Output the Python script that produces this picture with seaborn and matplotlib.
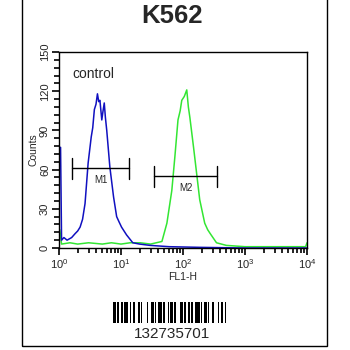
import numpy as np
import pandas as pd
import matplotlib
matplotlib.use("Agg")
import matplotlib.pyplot as plt
import seaborn as sns
from matplotlib.patches import Rectangle
from matplotlib.ticker import LogLocator, MultipleLocator, NullFormatter, FixedLocator

# ---- data ----
blue_fl = [1.04, 1.06, 1.1, 1.2, 1.35, 1.6, 1.82, 2.0, 2.19, 2.4, 2.63, 2.95, 3.31, 3.5, 3.72,
           3.95, 4.17, 4.37, 4.57, 4.9, 5.1, 5.37, 5.6, 5.89, 6.61, 7.59, 8.51, 9.3,
           10.2, 12.3, 15.5, 20, 29.5, 60, 186, 1000, 10000]
blue_counts = [77, 77, 6, 8, 6, 8, 11, 13, 16, 22, 34, 65, 85, 92, 106,
               110, 118, 112, 113, 98, 104, 111, 100, 90, 62, 39, 24, 20,
               16, 10, 4, 3, 2, 1, 0.5, 0, 0]

green_fl = [1.0, 1.03, 1.1, 1.5, 2.0, 3.0, 5.0, 7.0, 10.0, 14.0, 20.4, 30.0, 45.7, 55.0,
            66.0, 74.0, 83.0, 90.0, 95.5, 105, 115, 122, 129, 148, 166, 186, 224, 250,
            275, 347, 500, 1000, 3000, 9500, 10000]
green_counts = [14, 14, 3, 4, 3, 4, 3, 4, 3, 4, 4, 3, 5, 19,
                44, 70, 98, 105, 113, 116, 121, 108, 100, 77, 57, 37, 19, 14,
                11, 4, 2, 1, 1, 1, 4]

marker_names = ["M1", "M2"]
marker_lo = [1.62, 34]
marker_hi = [13.5, 355]
marker_y = [61, 55]

title = "K562"
x_label = "FL1-H"
y_label = "Counts"
y_ticks = [0, 30, 60, 90, 120, 150]
x_ticks = [1, 10, 100, 1000, 10000]
x_tick_labels = [r"$\mathregular{10^0}$", r"$\mathregular{10^1}$", r"$\mathregular{10^2}$",
                 r"$\mathregular{10^3}$", r"$\mathregular{10^4}$"]
barcode_text = "132735701"
barcode_widths = [2, 1, 1, 2, 1, 1, 3, 1, 1, 1, 2, 2, 1, 1, 1, 3, 1, 2, 2, 1, 1, 1, 3, 1,
                  1, 2, 1, 1, 2, 1, 1, 3, 2, 1, 1, 2, 1, 1, 1, 2, 3, 1, 1, 1, 2, 1, 1, 2,
                  1, 3, 1, 1, 2, 1, 1, 2]

sns.set_style("white")
plt.rcParams["font.family"] = ["Liberation Sans", "DejaVu Sans"]
plt.rcParams["mathtext.fontset"] = "custom"
plt.rcParams["mathtext.rm"] = "Liberation Sans"

W, H = 350, 350
fig = plt.figure(figsize=(3.5, 3.5), dpi=100)

def fx(px):
    return px / W

def fy(py):
    return 1 - py / H

# outer frame
fig.patches.append(Rectangle((fx(22), fy(346)), fx(327) - fx(22), fy(-2) - fy(346),
                             transform=fig.transFigure, fill=False, edgecolor="black",
                             linewidth=1.0))

fig.text(fx(172), fy(16), title, ha="center", va="center", fontsize=18.5, fontweight="bold")

ax = fig.add_axes([fx(59), fy(248), fx(307) - fx(59), fy(52) - fy(248)])

blue_df = pd.DataFrame({"fl": blue_fl, "count": blue_counts})
green_df = pd.DataFrame({"fl": green_fl, "count": green_counts})
sns.lineplot(data=green_df, x="fl", y="count", ax=ax, color="#33e633", lw=1.1,
             estimator=None, sort=False)
sns.lineplot(data=blue_df, x="fl", y="count", ax=ax, color="#1010c0", lw=1.1,
             estimator=None, sort=False)

ax.set_xscale("log")
ax.set_xlim(1, 10000)
ax.set_ylim(0, 150)

for name, lo, hi, yv in zip(marker_names, marker_lo, marker_hi, marker_y):
    ax.plot([lo, hi], [yv, yv], color="black", lw=1.0)
    ax.plot([lo, lo], [yv - 8, yv + 8], color="black", lw=1.0)
    ax.plot([hi, hi], [yv - 8, yv + 8], color="black", lw=1.0)
    ax.text(np.sqrt(lo * hi), yv - 9, name, ha="center", va="center", fontsize=7)

ax.text(0.053, 0.887, "control", transform=ax.transAxes, fontsize=10, ha="left", va="center")

ax.xaxis.set_major_locator(FixedLocator(x_ticks))
ax.set_xticklabels(x_tick_labels, fontsize=8)
ax.xaxis.set_minor_locator(LogLocator(base=10, subs=np.arange(2, 10) * 1.0, numticks=20))
ax.xaxis.set_minor_formatter(NullFormatter())
ax.set_yticks(y_ticks)
ax.set_yticklabels([str(v) for v in y_ticks], fontsize=8, rotation=90, va="center")
ax.yaxis.set_minor_locator(MultipleLocator(6))
ax.tick_params(which="major", direction="out", length=5, width=1.2, color="black",
               bottom=True, left=True, pad=1.5)
ax.tick_params(which="minor", direction="out", length=3.5, width=1.2, color="black",
               bottom=True, left=True)
ax.set_xlabel(x_label, fontsize=7.5, labelpad=1)
ax.set_ylabel(y_label, fontsize=7.5, labelpad=1)
for s in ax.spines.values():
    s.set_color("black")
    s.set_linewidth(1.0)

# barcode
bax = fig.add_axes([fx(113), fy(323), fx(229) - fx(113), fy(302) - fy(323)])
pos = 0
lefts, widths = [], []
for i, w in enumerate(barcode_widths):
    if i % 2 == 0:
        lefts.append(pos)
        widths.append(w)
    pos += w
bax.bar(lefts, [1] * len(lefts), width=widths, align="edge", color="black", linewidth=0)
bax.set_xlim(0, pos)
bax.set_ylim(0, 1)
bax.axis("off")
fig.text(fx(172), fy(333.5), barcode_text, ha="center", va="center", fontsize=11)

fig.savefig("out.png", dpi=100)
